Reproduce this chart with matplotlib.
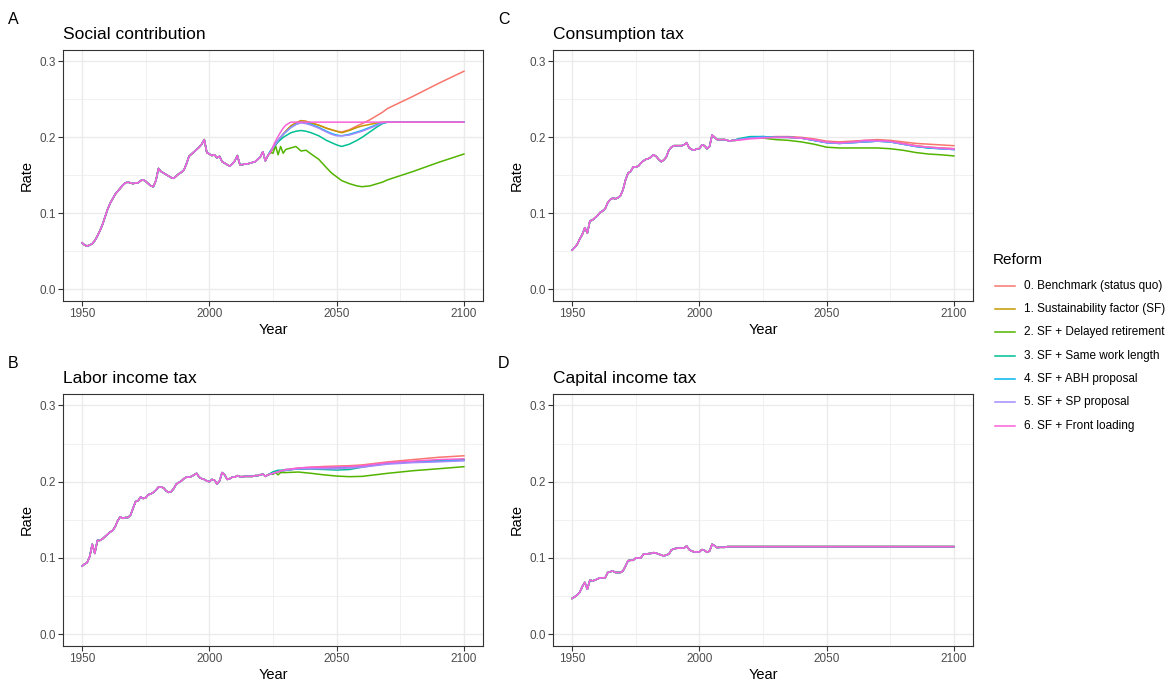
import matplotlib
matplotlib.use("Agg")
import matplotlib.pyplot as plt
from matplotlib.lines import Line2D

plt.rcParams['font.family'] = ['Liberation Sans', 'DejaVu Sans']

reforms = ["0. Benchmark (status quo)", "1. Sustainability factor (SF)",
           "2. SF + Delayed retirement", "3. SF + Same work length",
           "4. SF + ABH proposal", "5. SF + SP proposal", "6. SF + Front loading"]
colors = ["#F8766D", "#C49A00", "#53B400", "#00C094", "#00B6EB", "#A58AFF", "#FB61D7"]
panel_titles = ["Social contribution", "Labor income tax", "Consumption tax", "Capital income tax"]
panel_tags = ["A", "B", "C", "D"]
x_ticks = [1950, 2000, 2050, 2100]
y_ticks = [0.0, 0.1, 0.2, 0.3]

# ---------------- Panel A: Social contribution ----------------
a_hist_years = list(range(1950, 2024))
a_hist = [.061, .058, .057, .058, .060, .064, .070, .077, .085, .095,
          .105, .113, .119, .125, .129, .133, .137, .140, .141, .140,
          .139, .140, .140, .143, .144, .142, .139, .136, .135, .143,
          .159, .155, .153, .151, .149, .147, .146, .149, .152, .154,
          .157, .165, .175, .178, .181, .184, .187, .191, .197, .180,
          .178, .176, .177, .173, .175, .168, .166, .164, .162, .165,
          .169, .176, .164, .164, .165, .165, .166, .167, .168, .171,
          .174, .181, .169, .176]
a_proj_years = [2024, 2025, 2026, 2027, 2028, 2029, 2030, 2032, 2034, 2036, 2038, 2040,
                2043, 2046, 2048, 2050, 2052, 2055, 2058, 2060, 2063, 2066, 2068, 2070,
                2080, 2090, 2100]
a_r0 = [.180, .185, .190, .195, .200, .204, .208, .215, .219, .222, .221, .219,
        .216, .212, .210, .208, .207, .210, .215, .218, .223, .229, .233, .238,
        .254, .271, .287]
a_r1 = [.180, .185, .190, .195, .200, .204, .208, .215, .219, .222, .221, .219,
        .216, .212, .210, .208, .206, .209, .213, .215, .217, .219, .220, .220,
        .220, .220, .220]
a_r2 = [.180, .179, .189, .177, .188, .179, .184, .186, .188, .182, .183, .178,
        .171, .160, .153, .148, .143, .139, .136, .135, .136, .139, .141, .144,
        .155, .167, .178]
a_r3 = [.182, .186, .190, .194, .197, .200, .202, .206, .208, .209, .208, .206,
        .202, .196, .193, .190, .188, .191, .196, .200, .207, .214, .218, .220,
        .220, .220, .220]
a_r4 = [.182, .187, .192, .196, .200, .204, .207, .213, .217, .220, .219, .217,
        .213, .208, .205, .203, .202, .204, .207, .209, .213, .217, .219, .220,
        .220, .220, .220]
a_r5 = [.181, .186, .191, .196, .200, .204, .207, .213, .217, .219, .218, .216,
        .212, .207, .204, .202, .202, .203, .206, .208, .212, .216, .219, .220,
        .220, .220, .220]
a_r6 = [.180, .188, .195, .201, .207, .212, .216, .220, .220, .220, .220, .220,
        .220, .220, .220, .220, .220, .220, .220, .220, .220, .220, .220, .220,
        .220, .220, .220]

# ---------------- Panel B: Labor income tax ----------------
b_hist_years = list(range(1950, 2024))
b_hist = [.0895, .092, .094, .102, .118, .106, .123, .123, .125, .128,
          .131, .134, .136, .141, .149, .154, .152, .153, .153, .156,
          .165, .174, .175, .180, .178, .179, .183, .184, .186, .189,
          .193, .193, .192, .188, .186, .187, .191, .197, .199, .201,
          .204, .206, .206, .207, .209, .211, .206, .204, .203, .201,
          .200, .203, .202, .197, .201, .212, .209, .203, .204, .206,
          .206, .208, .2066, .2066, .207, .207, .207, .207, .208, .208,
          .209, .210, .207, .209]
b_proj_years = [2024, 2025, 2026, 2027, 2028, 2030, 2035, 2040, 2045, 2050,
                2055, 2060, 2065, 2070, 2080, 2090, 2100]
b_r0 = [.210, .211, .212, .213, .214, .215, .218, .219, .220, .2205, .221, .222, .224, .226, .229, .232, .234]
b_r1 = [.210, .211, .212, .213, .214, .215, .217, .218, .218, .218, .219, .220, .222, .224, .226, .228, .229]
b_r2 = [.210, .2096, .212, .209, .212, .212, .2127, .211, .209, .2074, .2066, .207, .209, .211, .2144, .217, .2197]
b_r3 = [.211, .213, .214, .215, .215, .216, .2166, .2166, .216, .2153, .216, .219, .222, .224, .226, .228, .229]
b_r4 = [.210, .211, .212, .213, .214, .215, .217, .218, .218, .218, .219, .220, .222, .224, .226, .227, .228]
b_r5 = [.210, .211, .212, .213, .214, .215, .217, .217, .217, .217, .218, .219, .221, .223, .225, .226, .2275]
b_r6 = [.210, .211, .212, .213, .214, .216, .218, .219, .219, .2195, .220, .221, .223, .225, .227, .229, .230]

# ---------------- Panel C: Consumption tax ----------------
c_hist_years = list(range(1950, 2015))
c_hist = [.0515, .055, .059, .066, .072, .081, .074, .090, .091, .094,
          .097, .101, .103, .106, .114, .118, .120, .119, .1205, .123,
          .131, .144, .153, .155, .161, .161, .162, .166, .169, .171,
          .172, .174, .177, .175, .171, .168, .170, .174, .183, .187,
          .189, .189, .189, .189, .190, .193, .186, .184, .183, .185,
          .185, .190, .189, .185, .188, .203, .200, .197, .197, .197,
          .197, .196, .195, .196, .196]
c_proj_years = [2015, 2020, 2025, 2030, 2035, 2040, 2045, 2050, 2055, 2060,
                2065, 2070, 2075, 2080, 2085, 2090, 2095, 2100]
c_r0 = [.197, .199, .200, .201, .201, .200, .198, .195, .194, .195, .196, .197, .196, .194, .192, .191, .190, .189]
c_r1 = [.197, .199, .200, .200, .200, .199, .196, .194, .193, .194, .195, .196, .195, .192, .189, .187, .186, .185]
c_r2 = [.197, .199, .199, .197, .196, .194, .191, .187, .186, .186, .186, .186, .185, .183, .180, .178, .177, .1755]
c_r3 = [.198, .201, .201, .200, .200, .199, .196, .193, .192, .193, .194, .195, .194, .191, .188, .186, .185, .184]
c_r4 = [.197, .200, .201, .200, .200, .199, .196, .193, .192, .193, .194, .195, .194, .191, .188, .186, .185, .184]
c_r5 = [.197, .199, .200, .200, .200, .199, .196, .193, .192, .193, .194, .195, .194, .191, .188, .187, .185, .184]
c_r6 = [.196, .198, .199, .200, .200, .199, .197, .194, .193, .194, .196, .196, .195, .192, .189, .187, .186, .185]

# ---------------- Panel D: Capital income tax ----------------
d_hist_years = list(range(1950, 2011))
d_hist = [.047, .049, .0515, .055, .0625, .068, .059, .071, .070, .071,
          .0725, .074, .074, .074, .081, .082, .083, .081, .081, .081,
          .083, .0895, .0965, .097, .097, .100, .100, .100, .105, .105,
          .1057, .106, .107, .1065, .105, .104, .1026, .104, .105, .1105,
          .112, .1127, .113, .113, .113, .1157, .111, .109, .108, .108,
          .108, .111, .110, .1075, .109, .118, .116, .1135, .114, .114,
          .114]
d_proj_years = [2011, 2100]
d_r0 = [.1149, .1149]
d_r1 = [.1149, .1149]
d_r2 = [.1149, .1149]
d_r3 = [.1149, .1149]
d_r4 = [.1149, .1149]
d_r5 = [.1149, .1149]
d_r6 = [.1149, .1149]

panels = [
    (a_hist_years, a_hist, a_proj_years, [a_r0, a_r1, a_r2, a_r3, a_r4, a_r5, a_r6]),
    (b_hist_years, b_hist, b_proj_years, [b_r0, b_r1, b_r2, b_r3, b_r4, b_r5, b_r6]),
    (c_hist_years, c_hist, c_proj_years, [c_r0, c_r1, c_r2, c_r3, c_r4, c_r5, c_r6]),
    (d_hist_years, d_hist, d_proj_years, [d_r0, d_r1, d_r2, d_r3, d_r4, d_r5, d_r6]),
]

W, H = 1173, 681
fig = plt.figure(figsize=(W / 100, H / 100), dpi=100)

# pixel boxes: (left, top, right, bottom)
boxes = [(63, 50, 483, 300.6), (63, 394, 483, 645.7),
         (553, 50, 973, 300.6), (553, 394, 973, 645.7)]

grey20 = "#333333"
grey30 = "#4D4D4D"
grid_col = "#EBEBEB"

for i, (hy, hv, py, series) in enumerate(panels):
    l, t, r, b = boxes[i]
    ax = fig.add_axes([l / W, 1 - b / H, (r - l) / W, (b - t) / H])
    ax.set_xlim(1942.5, 2107.5)
    ax.set_ylim(-0.015, 0.315)
    ax.set_xticks(x_ticks)
    ax.set_yticks(y_ticks)
    ax.set_xticklabels([str(v) for v in x_ticks])
    ax.set_yticklabels([f"{v:.1f}" for v in y_ticks])
    ax.set_xticks([1975, 2025, 2075], minor=True)
    ax.set_yticks([0.05, 0.15, 0.25], minor=True)
    ax.grid(True, which="major", color=grid_col, lw=1.0)
    ax.grid(True, which="minor", color=grid_col, lw=0.5)
    ax.set_axisbelow(True)
    ax.tick_params(which="major", length=3.6, width=0.8, color=grey20,
                   labelcolor=grey30, labelsize=8.5, pad=1.5)
    ax.tick_params(which="minor", length=0)
    for sp in ax.spines.values():
        sp.set_color(grey20)
        sp.set_linewidth(0.8)
    for k, vals in enumerate(series):
        xs = list(hy) + [y for y in py if y > hy[-1]]
        ys = list(hv) + [v for y, v in zip(py, vals) if y > hy[-1]]
        ax.plot(xs, ys, color=colors[k], lw=1.1, solid_joinstyle="round")
    ax.set_xlabel("Year", fontsize=10.5, labelpad=2.5)
    ax.set_ylabel("Rate", fontsize=10.5, labelpad=4)
    # titles and tags
    fig.text(l / W, 1 - (t - 11) / H, panel_titles[i], fontsize=12.5,
             ha="left", va="baseline", color="black")
    fig.text((l - 55) / W, 1 - (t - 26) / H, panel_tags[i], fontsize=11.5,
             ha="left", va="baseline", color="black")

# legend
fig.text(993 / W, 1 - 264 / H, "Reform", fontsize=11, ha="left", va="baseline")
leg_y = [285.7, 309, 332.3, 355.7, 379, 402.3, 425.7]
for k, lab in enumerate(reforms):
    y = 1 - leg_y[k] / H
    fig.add_artist(Line2D([995 / W, 1015 / W], [y, y], color=colors[k], lw=1.1,
                          transform=fig.transFigure))
    fig.text(1024 / W, y, lab, fontsize=8.5, ha="left", va="center", color="black")

fig.savefig("out.png", dpi=100)
